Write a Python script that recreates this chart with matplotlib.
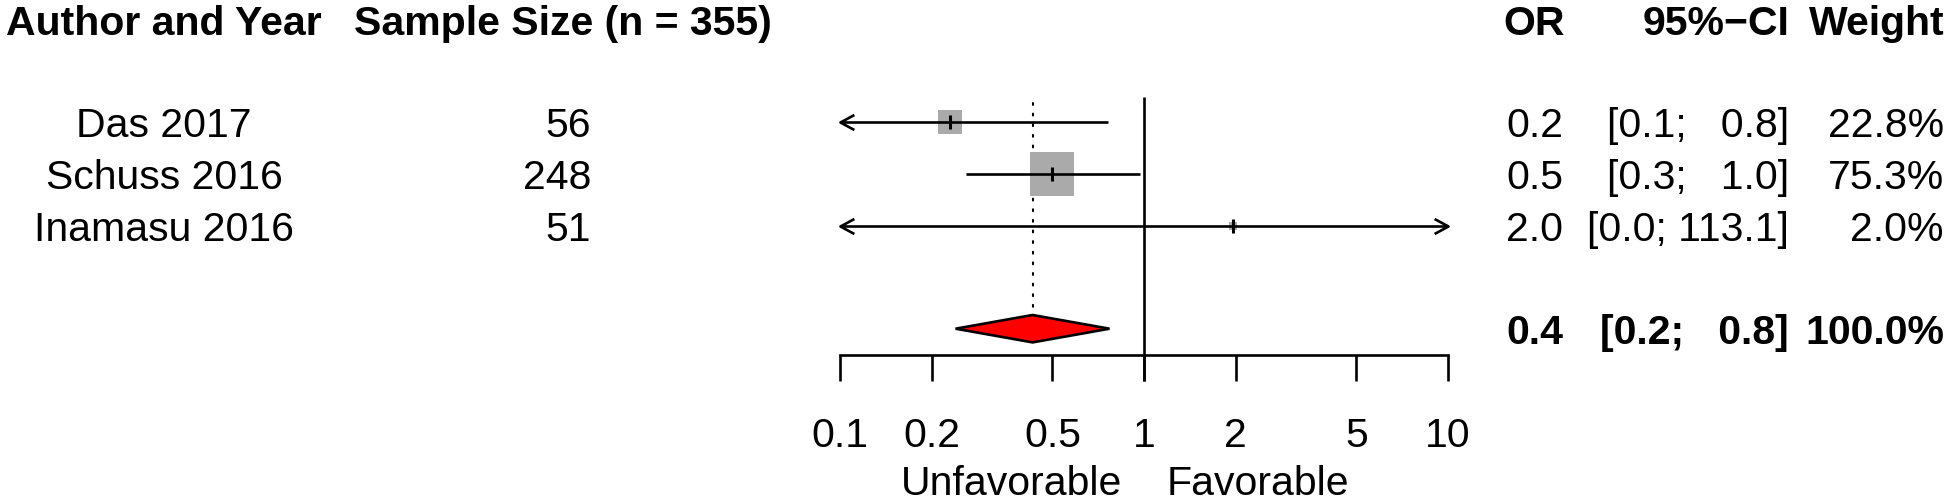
import numpy as np
import matplotlib
matplotlib.use("Agg")
from matplotlib import pyplot as plt
from matplotlib.path import Path

plt.rcParams['font.family'] = ['Liberation Sans', 'DejaVu Sans']

# study data
studies = ["Das 2017", "Schuss 2016", "Inamasu 2016"]
sizes = [56, 248, 51]
odds = [0.23, 0.50, 1.96]
ci_low = [0.07, 0.26, 0.03]
ci_high = [0.76, 0.97, 113.1]
weights = [22.8, 75.3, 2.0]

pooled_or = 0.43
pooled_low = 0.24
pooled_high = 0.77
pooled_weight = 100.0

ticks = [0.1, 0.2, 0.5, 1, 2, 5, 10]
tick_labels = ["0.1", "0.2", "0.5", "1", "2", "5", "10"]

# layout in pixels (figure is 1952 x 500 at dpi 100)
W, H = 1952, 500
row_y = [122.3, 174.3, 225.7]
pool_y = 328.7
axis_y = 355
x0_px, x1_px = 840, 1448
fs = 29.5
lw = 1.9
base = 15  # baseline offset below row centre
lab_x = 164

fig = plt.figure(figsize=(W / 100, H / 100), dpi=100)
bg = fig.add_axes([0, 0, 1, 1])
bg.set_xlim(0, W)
bg.set_ylim(H, 0)
bg.axis('off')

fa = fig.add_axes([x0_px / W, 0, (x1_px - x0_px) / W, 1])
fa.set_xscale('log')
fa.set_xlim(0.1, 10)
fa.set_ylim(H, 0)
fa.axis('off')
fa.patch.set_alpha(0)

lo_lim, hi_lim = ticks[0], ticks[-1]
chev = Path([(1, 0.54), (0, 0), (1, -0.54)], [Path.MOVETO, Path.LINETO, Path.LINETO])
chev_r = Path([(-1, 0.54), (0, 0), (-1, -0.54)], [Path.MOVETO, Path.LINETO, Path.LINETO])

# reference line at 1 and dotted line at pooled estimate
fa.plot([1, 1], [96.7, 381], color='black', lw=lw, solid_capstyle='butt')
fa.plot([pooled_or, pooled_or], [103, 308], color='black', lw=1.5,
        linestyle=(0, (0.9, 4.2)), dash_capstyle='round')

for i in range(len(studies)):
    y = row_y[i]
    lo = max(ci_low[i], lo_lim)
    hi = min(ci_high[i], hi_lim)
    side = 44 * np.sqrt(weights[i] / max(weights)) * 0.72
    fa.plot([odds[i]], [y], marker='s', markersize=side, color='#aaaaaa',
            markeredgewidth=0, linestyle='none', zorder=2)
    fa.plot([lo, hi], [y, y], color='black', lw=lw, solid_capstyle='butt', zorder=3)
    fa.plot([odds[i]], [y], marker='|', markersize=9.5, markeredgewidth=2.2,
            color='black', zorder=4)
    if ci_low[i] < lo_lim:
        fa.plot([lo_lim], [y], marker=chev, markersize=20, markerfacecolor='none',
                markeredgecolor='black', markeredgewidth=lw, clip_on=False, zorder=3)
    if ci_high[i] > hi_lim:
        fa.plot([hi_lim], [y], marker=chev_r, markersize=20, markerfacecolor='none',
                markeredgecolor='black', markeredgewidth=lw, clip_on=False, zorder=3)

# pooled diamond
dh = 13.7
fa.fill([pooled_low, pooled_or, pooled_high, pooled_or],
        [pool_y, pool_y - dh, pool_y, pool_y + dh],
        facecolor='red', edgecolor='black', lw=lw, joinstyle='miter', zorder=3)

# x axis
fa.plot([lo_lim, hi_lim], [axis_y, axis_y], color='black', lw=lw,
        solid_capstyle='projecting', clip_on=False)
for t, lab in zip(ticks, tick_labels):
    fa.plot([t, t], [axis_y, 381], color='black', lw=lw, clip_on=False,
            solid_capstyle='butt')
    fa.text(t, 447, lab, ha='center', va='baseline', fontsize=fs, clip_on=False)

bg.text(1122, 495, "Unfavorable", ha='right', va='baseline', fontsize=fs)
bg.text(1167, 495, "Favorable", ha='left', va='baseline', fontsize=fs)

# headers
bg.text(lab_x, 35, "Author and Year", ha='center', va='baseline', fontsize=fs, fontweight='bold')
bg.text(563, 35, "Sample Size (n = %d)" % sum(sizes), ha='center', va='baseline',
        fontsize=fs, fontweight='bold')
bg.text(1565, 35, "OR", ha='right', va='baseline', fontsize=fs, fontweight='bold')
bg.text(1790, 35, "95%\u2212CI", ha='right', va='baseline', fontsize=fs, fontweight='bold')
bg.text(1945, 35, "Weight", ha='right', va='baseline', fontsize=fs, fontweight='bold')

for i in range(len(studies)):
    yb = row_y[i] + base
    bg.text(lab_x, yb, studies[i], ha='center', va='baseline', fontsize=fs)
    bg.text(591, yb, str(sizes[i]), ha='right', va='baseline', fontsize=fs)
    bg.text(1563, yb, "%.1f" % odds[i], ha='right', va='baseline', fontsize=fs)
    bg.text(1789, yb, "[%.1f; %5.1f]" % (ci_low[i], ci_high[i]), ha='right',
            va='baseline', fontsize=fs)
    bg.text(1944, yb, "%.1f%%" % weights[i], ha='right', va='baseline', fontsize=fs)

yb = pool_y + base
bg.text(1563, yb, "%.1f" % pooled_or, ha='right', va='baseline', fontsize=fs, fontweight='bold')
bg.text(1789, yb, "[%.1f; %5.1f]" % (pooled_low, pooled_high), ha='right', va='baseline',
        fontsize=fs, fontweight='bold')
bg.text(1944, yb, "%.1f%%" % pooled_weight, ha='right', va='baseline', fontsize=fs,
        fontweight='bold')

fig.savefig("out.png", dpi=100, facecolor='white')
